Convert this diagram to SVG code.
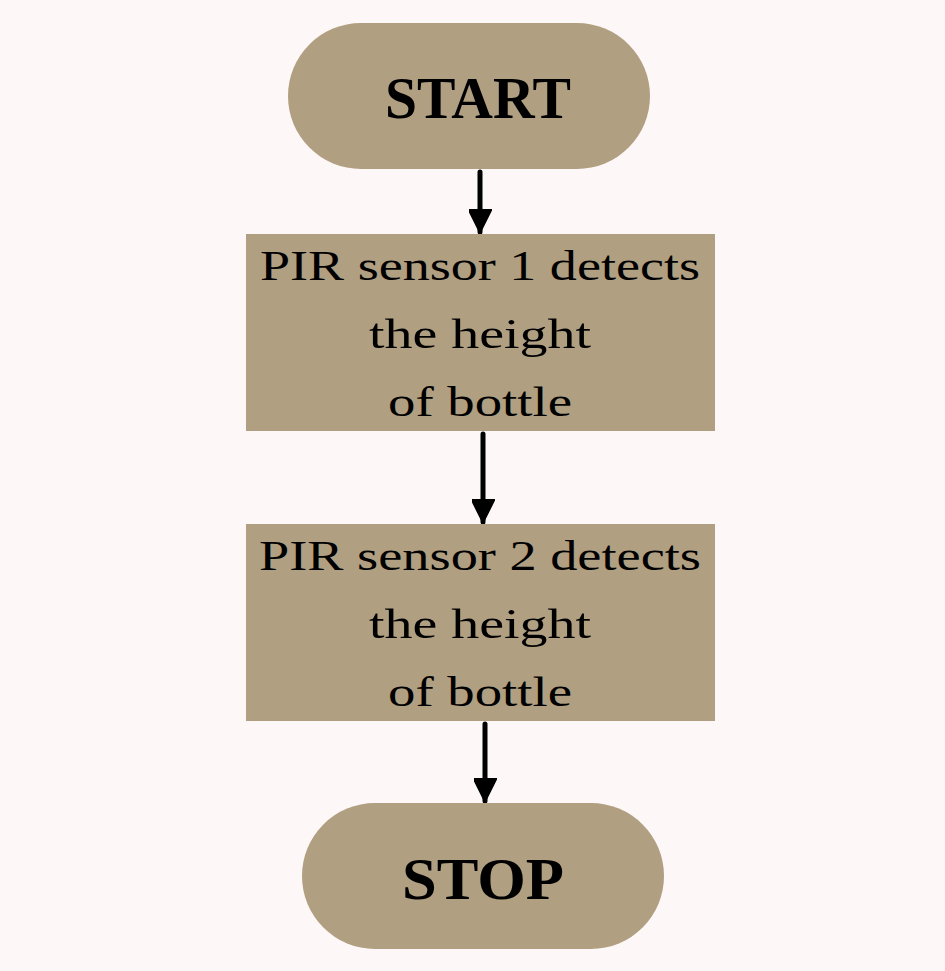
<svg xmlns="http://www.w3.org/2000/svg" width="945" height="971" viewBox="0 0 945 971">
<style>
.n{fill:#B09F80}
.t{font-family:"Liberation Serif","DejaVu Serif",serif;font-size:42px;fill:#000;text-anchor:middle}
.b{font-family:"Liberation Serif","DejaVu Serif",serif;font-size:60px;font-weight:bold;fill:#000;text-anchor:middle}
.c{stroke:#000;stroke-width:5;fill:none;stroke-linecap:round}
</style>
<defs>
<marker id="ah" viewBox="0 0 10 10" refX="10" refY="5" markerWidth="4.6" markerHeight="4.6" orient="auto" markerUnits="strokeWidth">
<path d="M0,0 L10,5 L0,10 z" fill="#000" stroke="#000" stroke-width="1" stroke-linejoin="round"/>
</marker>
</defs>
<rect width="945" height="971" fill="#FDF8F7"/>
<g id="connectors">
<line class="c" x1="480" y1="172" x2="480" y2="232" marker-end="url(#ah)"/>
<line class="c" x1="483" y1="434" x2="483" y2="522" marker-end="url(#ah)"/>
<line class="c" x1="485" y1="724" x2="485" y2="801" marker-end="url(#ah)"/>
</g>
<g id="start">
<rect class="n" x="288" y="23" width="362" height="146" rx="73"/>
<text class="b" x="478" y="118" textLength="186" lengthAdjust="spacingAndGlyphs">START</text>
</g>
<g id="step1">
<rect class="n" x="246" y="234" width="469" height="197"/>
<text class="t" x="480" y="280" textLength="440" lengthAdjust="spacingAndGlyphs">PIR sensor 1 detects</text>
<text class="t" x="480" y="348" textLength="222" lengthAdjust="spacingAndGlyphs">the height</text>
<text class="t" x="480" y="416" textLength="184" lengthAdjust="spacingAndGlyphs">of bottle</text>
</g>
<g id="step2">
<rect class="n" x="246" y="524" width="469" height="197"/>
<text class="t" x="480" y="570" textLength="442" lengthAdjust="spacingAndGlyphs">PIR sensor 2 detects</text>
<text class="t" x="480" y="638" textLength="222" lengthAdjust="spacingAndGlyphs">the height</text>
<text class="t" x="480" y="706" textLength="184" lengthAdjust="spacingAndGlyphs">of bottle</text>
</g>
<g id="stop">
<rect class="n" x="302" y="803" width="362" height="146" rx="73"/>
<text class="b" x="483" y="899" textLength="162" lengthAdjust="spacingAndGlyphs">STOP</text>
</g>
</svg>
